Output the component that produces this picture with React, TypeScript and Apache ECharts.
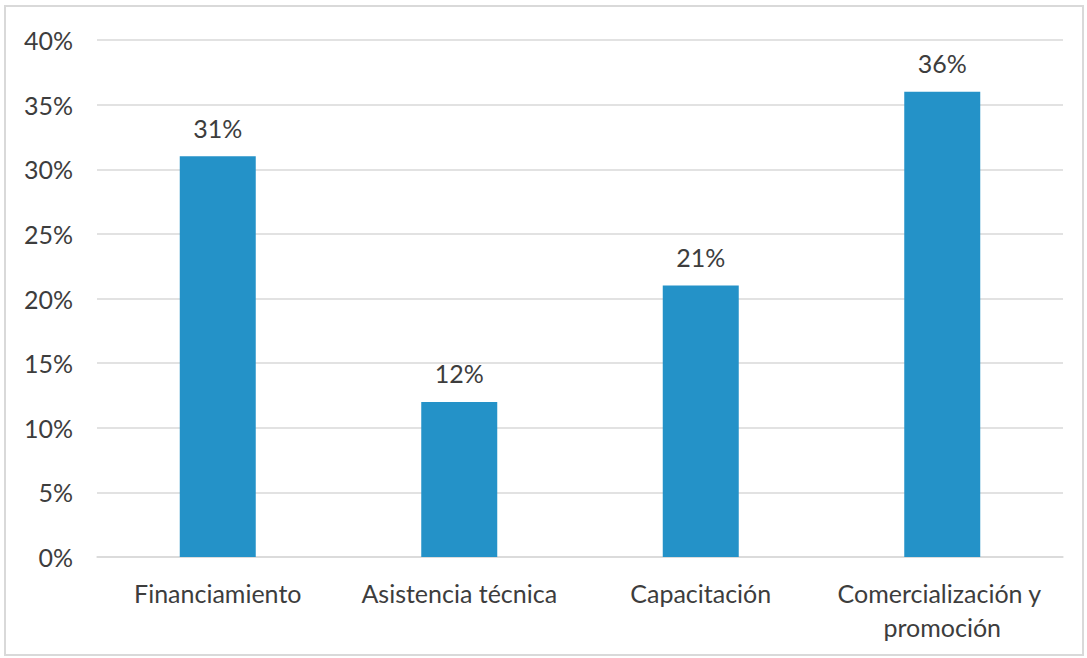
import React, { useEffect, useRef } from "react";
import * as echarts from "echarts";

const categories = ["Financiamiento", "Asistencia técnica", "Capacitación", "Comercialización y promoción"];
const values = [31, 12, 21, 36];
const yTicks = { min: 0, max: 40, interval: 5 };

const FONT = "Lato";
const TEXT = "#3d3d3d";
const FS = 25;

export default function App() {
  const ref = useRef<HTMLDivElement>(null);
  useEffect(() => {
    document.body.style.margin = "0";
    const chart = echarts.init(ref.current!, undefined, { renderer: "svg" });
    chart.setOption({
      animation: false,
      backgroundColor: "#ffffff",
      graphic: [
        {
          type: "rect",
          shape: { x: 5, y: 6, width: 1078, height: 649 },
          style: { fill: "none", stroke: "#d9d9d9", lineWidth: 2 },
          silent: true,
        },
      ],
      grid: { left: 97, right: 24, top: 40, bottom: 101, containLabel: false },
      xAxis: {
        type: "category",
        data: categories,
        axisLine: { show: true, lineStyle: { color: "#d9d9d9", width: 1.5 } },
        axisTick: { show: false },
        axisLabel: {
          color: TEXT,
          fontFamily: FONT,
          fontSize: FS,
          margin: 19,
          lineHeight: 34,
          width: 232,
          overflow: "break",
          interval: 0,
        },
      },
      yAxis: {
        type: "value",
        min: yTicks.min,
        max: yTicks.max,
        interval: yTicks.interval,
        axisLine: { show: false },
        axisTick: { show: false },
        splitLine: { lineStyle: { color: "#d9d9d9", width: 1.5 } },
        axisLabel: {
          color: TEXT,
          fontFamily: FONT,
          fontSize: FS,
          margin: 24,
          formatter: (v: number) => `${v}%`,
        },
      },
      series: [
        {
          type: "bar",
          data: values,
          barWidth: 76,
          itemStyle: { color: "#2492c8" },
          label: {
            show: true,
            position: "top",
            distance: 16,
            color: TEXT,
            fontFamily: FONT,
            fontSize: FS,
            formatter: (p: any) => `${p.value}%`,
          },
        },
      ],
    });
    return () => chart.dispose();
  }, []);
  return <div ref={ref} style={{ width: 1087, height: 658 }} />;
}
